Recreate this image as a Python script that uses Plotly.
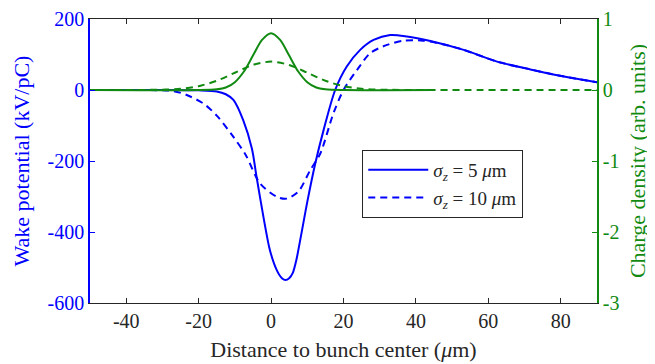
import plotly.graph_objects as go

# ---------------- data ----------------
# Wake potential, sigma_z = 5 um (kV/pC)
wake5_x = [-50, -30, -20, -15, -12.5, -10.4, -7.7, -5.3, -4, -2.1, -0.3, 1.6, 3, 4, 5, 6, 7, 8, 9, 10,
           12.2, 14.5, 17.7, 20.9, 24.6, 28.3, 32.9, 37.5, 44, 53.2, 62.4, 71.6, 80.9, 90]
wake5_v = [0, 0, -1, -4, -12, -28, -85, -165, -245, -358, -452, -508, -530, -535, -530, -515, -478, -425, -370, -315,
           -207, -113, 0, 66, 113, 141, 155, 151, 138, 113, 80, 58, 38, 22]

# Wake potential, sigma_z = 10 um (kV/pC)
wake10_x = [-50, -35, -27, -23.3, -18.7, -15, -10.4, -7, -3, 1.6, 4.3, 7.6, 10.8, 13.6, 17.2,
            20, 23.7, 27.4, 32, 36.6, 42, 47, 53.2, 62.4, 71.6, 80.9, 90]
wake10_v = [0, 0, -3, -14, -38, -72, -132, -183, -264, -301, -306, -285, -226, -179, -66,
            0, 56, 104, 127, 139, 139, 130, 113, 80, 58, 38, 22]

# Charge density, sigma_z = 5 um (arb. units)
rho5_x = [-50, -20, -15, -12.5, -10, -7.5, -5, -2.5, 0, 2.5, 5, 7.5, 10, 12.5, 15, 20, 45]
rho5_u = [0, 0, 0.01, 0.035, 0.11, 0.26, 0.485, 0.705, 0.8, 0.705, 0.485, 0.26, 0.11, 0.035, 0.01, 0, 0]

# Charge density, sigma_z = 10 um (arb. units)
rho10_x = [-50, -30, -25, -20, -15, -10, -5, 0, 5, 10, 15, 20, 25, 30, 90]
rho10_u = [0, 0.005, 0.018, 0.054, 0.13, 0.243, 0.353, 0.4, 0.353, 0.243, 0.13, 0.054, 0.018, 0.005, 0]

x_ticks = [-40, -20, 0, 20, 40, 60, 80]
x_ticktext = ["-40", "-20", "0", "20", "40", "60", "80"]
yl_ticks = [-600, -400, -200, 0, 200]
yl_ticktext = ["-600", "-400", "-200", "0", "200"]
yr_ticks = [-3, -2, -1, 0, 1]
yr_ticktext = ["-3", "-2", "-1", "0", "1"]

legend_names = ["<i>σ<sub>z</sub></i> = 5 <i>μ</i>m", "<i>σ<sub>z</sub></i> = 10 <i>μ</i>m"]

BLUE = "#0000ff"
GREEN = "#118a11"
DARK = "#262626"
FONT = "Liberation Serif, DejaVu Serif, serif"
TICK = 20
TITLE = 22

fig = go.Figure()

fig.add_trace(go.Scatter(x=rho10_x, y=rho10_u, yaxis="y2", mode="lines", showlegend=False,
                         line=dict(color=GREEN, width=2, dash="7px,5px", shape="spline", smoothing=0.8)))
fig.add_trace(go.Scatter(x=rho5_x, y=rho5_u, yaxis="y2", mode="lines", showlegend=False,
                         line=dict(color=GREEN, width=2, shape="spline", smoothing=0.8)))
fig.add_trace(go.Scatter(x=wake5_x, y=wake5_v, mode="lines", name=legend_names[0],
                         line=dict(color=BLUE, width=2, shape="spline", smoothing=0.8)))
fig.add_trace(go.Scatter(x=wake10_x, y=wake10_v, mode="lines", name=legend_names[1],
                         line=dict(color=BLUE, width=2, dash="7px,5px", shape="spline", smoothing=0.8)))

fig.update_layout(
    width=655, height=364,
    margin=dict(l=82, r=66, t=11, b=69, autoexpand=False),
    paper_bgcolor="white", plot_bgcolor="white",
    font=dict(family=FONT, size=TICK, color=DARK),
    xaxis=dict(range=[-50, 90], tickvals=x_ticks, ticktext=x_ticktext, automargin=False,
               showgrid=False, zeroline=False, showline=True, linecolor=DARK, linewidth=1,
               mirror="ticks", ticks="inside", ticklen=5, tickcolor=DARK,
               title=dict(text="Distance to bunch center (<i>μ</i>m)", standoff=10,
                          font=dict(family=FONT, size=TITLE, color=DARK)),
               tickfont=dict(family=FONT, size=TICK, color=DARK)),
    yaxis=dict(range=[-600, 200], tickvals=yl_ticks, ticktext=yl_ticktext, automargin=False,
               showgrid=False, zeroline=False, showline=True, linecolor=BLUE, linewidth=1.5,
               ticks="inside", ticklen=5, tickcolor=BLUE,
               title=dict(text="Wake potential (kV/pC)", standoff=12,
                          font=dict(family=FONT, size=TITLE, color=BLUE)),
               tickfont=dict(family=FONT, size=TICK, color=BLUE)),
    yaxis2=dict(range=[-3, 1], tickvals=yr_ticks, ticktext=yr_ticktext, automargin=False,
                overlaying="y", side="right",
                showgrid=False, zeroline=False, showline=True, linecolor=GREEN, linewidth=1.5,
                ticks="inside", ticklen=5, tickcolor=GREEN,
                title=dict(text="Charge density (arb. units)", standoff=11,
                           font=dict(family=FONT, size=TITLE, color=GREEN)),
                tickfont=dict(family=FONT, size=TICK, color=GREEN)),
    legend=dict(x=0.537, y=0.539, xanchor="left", yanchor="top",
                bgcolor="white", bordercolor=DARK, borderwidth=1,
                font=dict(family=FONT, size=19, color=DARK),
                tracegroupgap=0, itemwidth=60),
)

fig.write_html("out.html")
